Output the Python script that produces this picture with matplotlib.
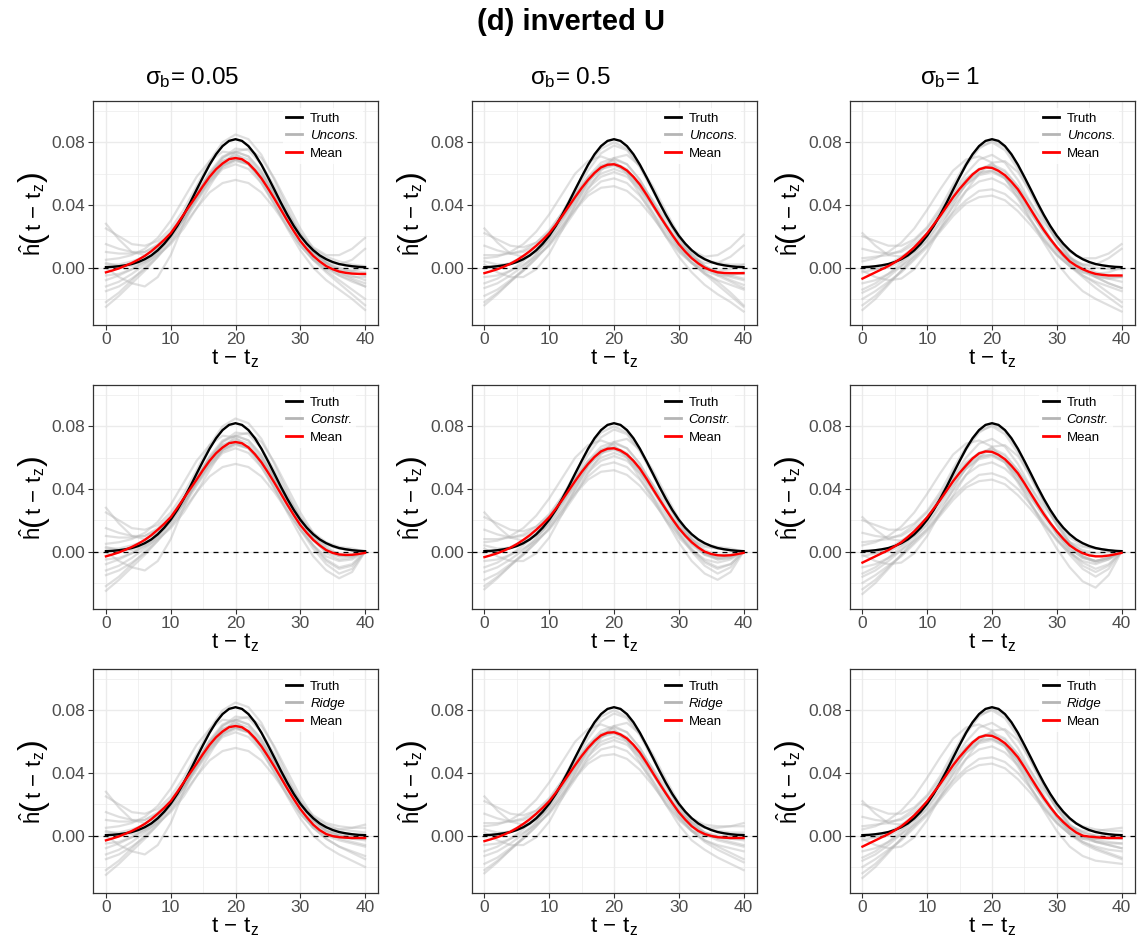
import matplotlib
matplotlib.use("Agg")
import matplotlib.pyplot as plt
from matplotlib.lines import Line2D
from matplotlib.ticker import MultipleLocator

plt.rcParams["font.family"] = ["Liberation Sans", "DejaVu Sans"]
plt.rcParams["mathtext.fontset"] = "custom"
plt.rcParams["mathtext.rm"] = "Liberation Sans"
plt.rcParams["mathtext.it"] = "Liberation Sans"
plt.rcParams["mathtext.bf"] = "Liberation Sans:bold"

# ---------------------------------------------------------------- data
T_FINE = list(range(0, 41))        # lag grid for truth and means
T_GRID = list(range(0, 41, 2))     # lag grid for single replicates

TRUTH = [0.0003, 0.0005, 0.0009, 0.0015, 0.0023, 0.0036, 0.0054, 0.0078,
         0.0111, 0.0153, 0.0204, 0.0266, 0.0337, 0.0415, 0.0498, 0.0579,
         0.0657, 0.0724, 0.0776, 0.0809, 0.0820, 0.0809, 0.0776, 0.0724,
         0.0657, 0.0579, 0.0498, 0.0415, 0.0337, 0.0266, 0.0204, 0.0153,
         0.0111, 0.0078, 0.0054, 0.0036, 0.0023, 0.0015, 0.0009, 0.0005,
         0.0003]

SIGMA_B = ["0.05", "0.5", "1"]
METHODS = ["Uncons.", "Constr.", "Ridge"]
SCALE = 1000.0   # estimates below are stored as h-hat x 1000

MEAN_UNCONS = [
    [-3, -1.8, -0.5, 1.2, 3, 5.1, 7.5, 10.5, 14, 17.8, 22, 27.8, 34, 40, 46, 52.2,
     58, 62.8, 66.5, 69.2, 70, 69.2, 66.5, 62.2, 57, 50.7, 44, 37, 30, 23.3, 17,
     12, 7.5, 4, 1, -1, -2.5, -3.3, -3.8, -4, -4],
    [-3.5, -2.3, -1, 0.6, 2.5, 4.8, 7.5, 10.5, 14, 17.8, 22, 27.3, 33, 39, 45, 50.8,
     56, 60.5, 64, 65.7, 66, 64.6, 62, 58, 53, 46.7, 40, 33.4, 27, 20.8, 15,
     10.2, 6, 2.7, 0, -1.8, -3, -3.4, -3.5, -3.5, -3.5],
    [-7, -5, -3, -1, 1, 3.4, 6, 9.3, 13, 17.3, 22, 27.5, 33, 39, 45, 50.3,
     55, 59.5, 62.7, 64, 63.7, 61.8, 59, 54.8, 50, 43.7, 37, 30.4, 24, 18.2, 13,
     8.2, 4, 1.2, -1, -2.7, -4, -4.6, -5, -5, -5],
]
MEAN_CONSTR = [
    [-3, -1.8, -0.5, 1.2, 3, 5.1, 7.5, 10.5, 14, 17.8, 22, 27.8, 34, 40, 46, 52.2,
     58, 62.8, 66.5, 69.2, 70, 69.2, 66.5, 62.2, 57, 50.7, 44, 37, 30, 23.3, 17,
     12, 7.5, 4, 1, -0.8, -1.8, -2.1, -2, -1.5, -0.8],
    [-3.5, -2.3, -1, 0.6, 2.5, 4.8, 7.5, 10.5, 14, 17.8, 22, 27.3, 33, 39, 45, 50.8,
     56, 60.5, 64, 65.7, 66, 64.6, 62, 58, 53, 46.7, 40, 33.4, 27, 20.8, 15,
     10.2, 6, 2.7, 0, -1.5, -2.3, -2.5, -2.3, -1.6, -0.8],
    [-7, -5, -3, -1, 1, 3.4, 6, 9.3, 13, 17.3, 22, 27.5, 33, 39, 45, 50.3,
     55, 59.5, 62.7, 64, 63.7, 61.8, 59, 54.8, 50, 43.7, 37, 30.4, 24, 18.2, 13,
     8.2, 4, 1.2, -1, -2.4, -3, -3, -2.5, -1.7, -0.8],
]
MEAN_RIDGE = [
    [-3, -1.8, -0.5, 1.2, 3, 5.1, 7.5, 10.5, 14, 17.8, 22, 27.8, 34, 40, 46, 52.2,
     58, 62.8, 66.5, 69.2, 70, 69.2, 66.5, 62.2, 57, 50.7, 44, 37, 30, 23.3, 17,
     11.8, 7, 3.5, 1, -0.3, -1, -1.3, -1.5, -1.5, -1.5],
    [-3.5, -2.3, -1, 0.6, 2.5, 4.8, 7.5, 10.5, 14, 17.8, 22, 27.3, 33, 39, 45, 50.8,
     56, 60.5, 64, 65.7, 66, 64.6, 62, 58, 53, 46.7, 40, 33.4, 27, 20.8, 15,
     10.2, 6, 3, 1, -0.2, -1, -1.3, -1.5, -1.5, -1.5],
    [-7, -5, -3, -1, 1, 3.4, 6, 9.3, 13, 17.3, 22, 27.5, 33, 39, 45, 50.3,
     55, 59.5, 62.7, 64, 63.7, 61.8, 59, 54.8, 50, 43.7, 37, 30.4, 24, 18.2, 13,
     8.7, 5, 2, 0, -0.6, -1, -1.3, -1.5, -1.5, -1.5],
]

GREY_UNCONS_S005 = [
    [25, 20, 15, 14, 17, 25, 37, 52, 68, 80, 85, 82, 72, 56, 38, 22, 10, 3, -2, -5, -8],
    [-15, -12, -7, -1, 7, 16, 27, 38, 48, 54, 56, 54, 48, 38, 26, 14, 5, -2, -8, -14, -20],
    [-22, -16, -8, 0, 9, 19, 31, 44, 56, 65, 69, 66, 57, 44, 30, 17, 7, 0, -4, -6, -6],
    [10, 9, 9, 10, 15, 23, 34, 47, 59, 68, 72, 69, 60, 47, 33, 20, 10, 4, 2, 5, 12],
    [0, -6, -10, -12, -6, 8, 28, 46, 61, 71, 74, 71, 62, 48, 33, 19, 9, 3, 0, -2, -3],
    [-5, -4, -1, 3, 8, 15, 25, 38, 52, 65, 74, 76, 70, 57, 41, 25, 12, 3, -3, -7, -10],
    [5, 6, 8, 12, 19, 30, 44, 58, 68, 74, 73, 66, 54, 40, 26, 14, 5, 0, -2, -2, 0],
    [-8, -5, -1, 4, 11, 21, 34, 48, 60, 68, 71, 67, 56, 41, 25, 11, 0, -8, -14, -20, -27],
    [2, 2, 4, 7, 13, 21, 32, 45, 57, 66, 69, 67, 59, 48, 35, 22, 13, 8, 8, 12, 19],
    [15, 12, 10, 10, 14, 21, 31, 43, 55, 64, 68, 66, 58, 46, 33, 20, 10, 3, -1, -3, -5],
    [-12, -9, -4, 2, 10, 20, 33, 47, 60, 70, 74, 71, 61, 47, 31, 17, 6, -1, -5, -8, -12],
    [28, 18, 10, 8, 12, 20, 31, 44, 56, 65, 69, 66, 57, 45, 32, 20, 12, 7, 4, 2, 1],
    [-25, -18, -10, -2, 7, 17, 29, 42, 54, 63, 66, 63, 54, 41, 28, 15, 5, -3, -10, -17, -24],
    [3, 1, 1, 4, 10, 19, 31, 45, 59, 70, 76, 75, 66, 52, 36, 21, 9, 1, -5, -9, -12],
]
GREY_UNCONS_S05 = [
    [22, 18, 14, 13, 16, 23, 35, 50, 65, 76, 80, 76, 65, 50, 34, 19, 8, 1, -3, -6, -8],
    [-18, -14, -8, -2, 6, 15, 26, 37, 46, 51, 52, 49, 42, 32, 21, 11, 3, -3, -9, -16, -24],
    [-24, -17, -9, -1, 8, 18, 30, 43, 55, 63, 66, 62, 52, 39, 25, 13, 4, -2, -5, -5, -3],
    [8, 8, 9, 11, 16, 24, 35, 47, 58, 65, 67, 63, 53, 40, 27, 15, 7, 3, 3, 7, 14],
    [2, -3, -6, -6, -1, 9, 24, 40, 55, 65, 69, 66, 56, 42, 28, 15, 6, 0, -3, -4, -4],
    [-6, -5, -2, 2, 7, 14, 24, 36, 50, 62, 70, 72, 65, 52, 36, 21, 9, 1, -4, -8, -11],
    [6, 7, 10, 15, 23, 34, 47, 60, 68, 71, 68, 60, 47, 33, 20, 10, 3, -1, -2, -1, 2],
    [-10, -7, -2, 4, 11, 21, 33, 46, 57, 64, 66, 61, 50, 35, 20, 7, -3, -11, -17, -22, -28],
    [0, 1, 3, 7, 13, 21, 32, 44, 55, 63, 65, 62, 54, 43, 31, 19, 11, 7, 8, 13, 21],
    [14, 11, 9, 10, 14, 21, 31, 42, 53, 60, 63, 60, 52, 40, 28, 16, 7, 1, -3, -5, -7],
    [-13, -10, -5, 1, 9, 19, 32, 46, 58, 67, 70, 66, 56, 42, 27, 13, 3, -4, -8, -11, -14],
    [25, 16, 9, 7, 10, 17, 28, 40, 51, 58, 61, 58, 50, 39, 27, 16, 9, 5, 3, 2, 2],
    [-22, -16, -9, -2, 6, 15, 26, 38, 48, 55, 57, 54, 46, 35, 23, 12, 3, -4, -11, -18, -25],
    [4, 2, 2, 5, 11, 20, 33, 48, 62, 73, 78, 75, 64, 49, 33, 18, 7, 0, -5, -9, -13],
]
GREY_UNCONS_S1 = [
    [20, 17, 14, 14, 18, 26, 38, 53, 67, 77, 80, 75, 63, 47, 31, 17, 7, 1, -3, -5, -6],
    [-20, -15, -9, -3, 5, 13, 23, 33, 41, 45, 46, 43, 36, 27, 17, 8, 1, -5, -10, -16, -22],
    [-27, -20, -11, -2, 8, 18, 30, 42, 53, 60, 62, 58, 48, 35, 22, 11, 3, -3, -6, -7, -6],
    [6, 7, 8, 11, 17, 25, 36, 47, 57, 63, 64, 59, 49, 37, 24, 13, 6, 2, 2, 6, 12],
    [-2, -6, -8, -7, -1, 10, 25, 40, 54, 63, 66, 62, 52, 38, 24, 12, 3, -2, -5, -6, -6],
    [-10, -8, -4, 1, 7, 14, 24, 36, 49, 60, 67, 68, 61, 48, 33, 19, 7, -1, -6, -10, -13],
    [4, 6, 10, 16, 25, 37, 50, 62, 69, 71, 67, 57, 44, 30, 18, 8, 1, -3, -4, -3, 0],
    [-14, -10, -4, 3, 11, 21, 33, 45, 55, 61, 62, 57, 46, 31, 16, 3, -7, -15, -20, -24, -28],
    [-3, -1, 2, 7, 13, 22, 33, 45, 56, 63, 65, 61, 52, 41, 29, 18, 10, 6, 6, 9, 15],
    [12, 10, 9, 10, 15, 22, 32, 43, 53, 59, 61, 57, 48, 36, 24, 13, 5, -1, -5, -7, -9],
    [-16, -12, -6, 1, 10, 21, 34, 48, 60, 69, 72, 67, 56, 41, 26, 12, 2, -5, -9, -12, -15],
    [22, 14, 8, 7, 10, 17, 28, 39, 49, 55, 57, 53, 45, 34, 23, 13, 6, 2, 0, -1, -1],
    [-24, -18, -10, -2, 6, 15, 25, 35, 43, 49, 50, 47, 40, 30, 19, 9, 1, -6, -13, -19, -25],
    [0, -1, 0, 4, 11, 21, 35, 51, 65, 76, 81, 77, 65, 49, 32, 17, 6, -1, -6, -10, -13],
]

GREY_CONSTR_S005 = [
    [25, 20, 15, 14, 17, 25, 37, 52, 68, 80, 85, 82, 72, 56, 38, 22, 10, 2, -2, -2, 0],
    [-15, -12, -7, -1, 7, 16, 27, 38, 48, 54, 56, 54, 48, 38, 26, 14, 4, -5, -10, -8, 0],
    [-22, -16, -8, 0, 9, 19, 31, 44, 56, 65, 69, 66, 57, 44, 30, 17, 7, 0, -3, -3, 0],
    [10, 9, 9, 10, 15, 23, 34, 47, 59, 68, 72, 69, 60, 47, 33, 20, 10, 4, 2, 1, 0],
    [0, -6, -10, -12, -6, 8, 28, 46, 61, 71, 74, 71, 62, 48, 33, 19, 8, 1, -2, -2, 0],
    [-5, -4, -1, 3, 8, 15, 25, 38, 52, 65, 74, 76, 70, 57, 41, 25, 12, 3, -2, -3, 0],
    [5, 6, 8, 12, 19, 30, 44, 58, 68, 74, 73, 66, 54, 40, 26, 14, 4, -3, -6, -5, 0],
    [-8, -5, -1, 4, 11, 21, 34, 48, 60, 68, 71, 67, 56, 41, 25, 10, -3, -12, -17, -13, 0],
    [2, 2, 4, 7, 13, 21, 32, 45, 57, 66, 69, 67, 59, 48, 35, 22, 12, 6, 3, 2, 0],
    [15, 12, 10, 10, 14, 21, 31, 43, 55, 64, 68, 66, 58, 46, 33, 20, 9, 1, -3, -3, 0],
    [-12, -9, -4, 2, 10, 20, 33, 47, 60, 70, 74, 71, 61, 47, 31, 16, 4, -6, -11, -9, 0],
    [28, 18, 10, 8, 12, 20, 31, 44, 56, 65, 69, 66, 57, 45, 32, 20, 11, 5, 2, 1, 0],
    [-25, -18, -10, -2, 7, 17, 29, 42, 54, 63, 66, 63, 54, 41, 28, 14, 2, -8, -14, -11, 0],
    [3, 1, 1, 4, 10, 19, 31, 45, 59, 70, 76, 75, 66, 52, 36, 21, 8, -1, -5, -4, 0],
]
GREY_CONSTR_S05 = [
    [22, 18, 14, 13, 16, 23, 35, 50, 65, 76, 80, 76, 65, 50, 34, 19, 8, 1, -2, -2, 0],
    [-18, -14, -8, -2, 6, 15, 26, 37, 46, 51, 52, 49, 42, 32, 21, 11, 2, -6, -10, -8, 0],
    [-24, -17, -9, -1, 8, 18, 30, 43, 55, 63, 66, 62, 52, 39, 25, 13, 4, -2, -4, -3, 0],
    [8, 8, 9, 11, 16, 24, 35, 47, 58, 65, 67, 63, 53, 40, 27, 15, 7, 3, 2, 1, 0],
    [2, -3, -6, -6, -1, 9, 24, 40, 55, 65, 69, 66, 56, 42, 28, 15, 5, -1, -3, -2, 0],
    [-6, -5, -2, 2, 7, 14, 24, 36, 50, 62, 70, 72, 65, 52, 36, 21, 8, -1, -5, -4, 0],
    [6, 7, 10, 15, 23, 34, 47, 60, 68, 71, 68, 60, 47, 33, 20, 9, 1, -5, -7, -5, 0],
    [-10, -7, -2, 4, 11, 21, 33, 46, 57, 64, 66, 61, 50, 35, 20, 6, -6, -14, -18, -13, 0],
    [0, 1, 3, 7, 13, 21, 32, 44, 55, 63, 65, 62, 54, 43, 31, 19, 10, 5, 3, 2, 0],
    [14, 11, 9, 10, 14, 21, 31, 42, 53, 60, 63, 60, 52, 40, 28, 16, 6, -1, -4, -3, 0],
    [-13, -10, -5, 1, 9, 19, 32, 46, 58, 67, 70, 66, 56, 42, 27, 12, 1, -7, -11, -8, 0],
    [25, 16, 9, 7, 10, 17, 28, 40, 51, 58, 61, 58, 50, 39, 27, 16, 8, 4, 2, 1, 0],
    [-22, -16, -9, -2, 6, 15, 26, 38, 48, 55, 57, 54, 46, 35, 23, 11, 0, -9, -14, -10, 0],
    [4, 2, 2, 5, 11, 20, 33, 48, 62, 73, 78, 75, 64, 49, 33, 18, 6, -2, -5, -4, 0],
]
GREY_CONSTR_S1 = [
    [20, 17, 14, 14, 18, 26, 38, 53, 67, 77, 80, 75, 63, 47, 31, 17, 6, 0, -3, -2, 0],
    [-20, -15, -9, -3, 5, 13, 23, 33, 41, 45, 46, 43, 36, 27, 17, 8, 0, -7, -11, -8, 0],
    [-27, -20, -11, -2, 8, 18, 30, 42, 53, 60, 62, 58, 48, 35, 22, 11, 2, -4, -6, -4, 0],
    [6, 7, 8, 11, 17, 25, 36, 47, 57, 63, 64, 59, 49, 37, 24, 13, 6, 3, 2, 1, 0],
    [-2, -6, -8, -7, -1, 10, 25, 40, 54, 63, 66, 62, 52, 38, 24, 12, 2, -4, -6, -4, 0],
    [-10, -8, -4, 1, 7, 14, 24, 36, 49, 60, 67, 68, 61, 48, 33, 19, 6, -3, -7, -5, 0],
    [4, 6, 10, 16, 25, 37, 50, 62, 69, 71, 67, 57, 44, 30, 18, 7, -1, -6, -8, -5, 0],
    [-14, -10, -4, 3, 11, 21, 33, 45, 55, 61, 62, 57, 46, 31, 16, 2, -10, -19, -23, -15, 0],
    [-3, -1, 2, 7, 13, 22, 33, 45, 56, 63, 65, 61, 52, 41, 29, 18, 9, 4, 2, 1, 0],
    [12, 10, 9, 10, 15, 22, 32, 43, 53, 59, 61, 57, 48, 36, 24, 13, 4, -3, -6, -4, 0],
    [-16, -12, -6, 1, 10, 21, 34, 48, 60, 69, 72, 67, 56, 41, 26, 11, 0, -9, -13, -9, 0],
    [22, 14, 8, 7, 10, 17, 28, 39, 49, 55, 57, 53, 45, 34, 23, 13, 5, 1, -1, 0, 0],
    [-24, -18, -10, -2, 6, 15, 25, 35, 43, 49, 50, 47, 40, 30, 19, 8, -2, -11, -16, -11, 0],
    [0, -1, 0, 4, 11, 21, 35, 51, 65, 76, 81, 77, 65, 49, 32, 17, 5, -3, -6, -4, 0],
]

GREY_RIDGE_S005 = [
    [25, 20, 15, 14, 17, 25, 37, 52, 68, 80, 85, 82, 72, 56, 38, 22, 10, 3, 0, -1, -2],
    [-15, -12, -7, -1, 7, 16, 27, 38, 48, 54, 56, 54, 48, 38, 26, 14, 5, -2, -7, -10, -13],
    [-22, -16, -8, 0, 9, 19, 31, 44, 56, 65, 69, 66, 57, 44, 30, 17, 7, 1, -1, -2, -2],
    [10, 9, 9, 10, 15, 23, 34, 47, 59, 68, 72, 69, 60, 47, 33, 20, 10, 5, 4, 5, 7],
    [0, -6, -10, -12, -6, 8, 28, 46, 61, 71, 74, 71, 62, 48, 33, 19, 9, 3, 1, 0, 0],
    [-5, -4, -1, 3, 8, 15, 25, 38, 52, 65, 74, 76, 70, 57, 41, 25, 12, 4, 0, -2, -3],
    [5, 6, 8, 12, 19, 30, 44, 58, 68, 74, 73, 66, 54, 40, 26, 14, 5, 0, -1, -1, 0],
    [-8, -5, -1, 4, 11, 21, 34, 48, 60, 68, 71, 67, 56, 41, 25, 11, 0, -7, -12, -16, -20],
    [2, 2, 4, 7, 13, 21, 32, 45, 57, 66, 69, 67, 59, 48, 35, 22, 13, 8, 6, 5, 5],
    [15, 12, 10, 10, 14, 21, 31, 43, 55, 64, 68, 66, 58, 46, 33, 20, 10, 3, 0, -1, -2],
    [-12, -9, -4, 2, 10, 20, 33, 47, 60, 70, 74, 71, 61, 47, 31, 17, 6, 0, -3, -5, -7],
    [28, 18, 10, 8, 12, 20, 31, 44, 56, 65, 69, 66, 57, 45, 32, 20, 12, 7, 4, 3, 2],
    [-25, -18, -10, -2, 7, 17, 29, 42, 54, 63, 66, 63, 54, 41, 28, 15, 5, -2, -7, -11, -15],
    [3, 1, 1, 4, 10, 19, 31, 45, 59, 70, 76, 75, 66, 52, 36, 21, 9, 2, -2, -4, -6],
]
GREY_RIDGE_S05 = [
    [22, 18, 14, 13, 16, 23, 35, 50, 65, 76, 80, 76, 65, 50, 34, 19, 8, 2, 0, -1, -2],
    [-18, -14, -8, -2, 6, 15, 26, 37, 46, 51, 52, 49, 42, 32, 21, 11, 3, -3, -7, -11, -15],
    [-24, -17, -9, -1, 8, 18, 30, 43, 55, 63, 66, 62, 52, 39, 25, 13, 4, 0, -1, -1, -1],
    [8, 8, 9, 11, 16, 24, 35, 47, 58, 65, 67, 63, 53, 40, 27, 15, 8, 5, 5, 6, 8],
    [2, -3, -6, -6, -1, 9, 24, 40, 55, 65, 69, 66, 56, 42, 28, 15, 6, 1, -1, -2, -2],
    [-6, -5, -2, 2, 7, 14, 24, 36, 50, 62, 70, 72, 65, 52, 36, 21, 9, 2, -2, -4, -6],
    [6, 7, 10, 15, 23, 34, 47, 60, 68, 71, 68, 60, 47, 33, 20, 10, 3, 0, -1, 0, 1],
    [-10, -7, -2, 4, 11, 21, 33, 46, 57, 64, 66, 61, 50, 35, 20, 7, -3, -9, -14, -18, -22],
    [0, 1, 3, 7, 13, 21, 32, 44, 55, 63, 65, 62, 54, 43, 31, 19, 11, 7, 6, 6, 6],
    [14, 11, 9, 10, 14, 21, 31, 42, 53, 60, 63, 60, 52, 40, 28, 16, 7, 2, -1, -2, -3],
    [-13, -10, -5, 1, 9, 19, 32, 46, 58, 67, 70, 66, 56, 42, 27, 13, 3, -3, -6, -8, -10],
    [25, 16, 9, 7, 10, 17, 28, 40, 51, 58, 61, 58, 50, 39, 27, 16, 9, 5, 3, 2, 2],
    [-22, -16, -9, -2, 6, 15, 26, 38, 48, 55, 57, 54, 46, 35, 23, 12, 3, -4, -9, -13, -17],
    [4, 2, 2, 5, 11, 20, 33, 48, 62, 73, 78, 75, 64, 49, 33, 18, 7, 1, -3, -5, -7],
]
GREY_RIDGE_S1 = [
    [20, 17, 14, 14, 18, 26, 38, 53, 67, 77, 80, 75, 63, 47, 31, 17, 7, 2, 0, -1, -2],
    [-20, -15, -9, -3, 5, 13, 23, 33, 41, 45, 46, 43, 36, 27, 17, 8, 1, -4, -8, -11, -14],
    [-27, -20, -11, -2, 8, 18, 30, 42, 53, 60, 62, 58, 48, 35, 22, 11, 3, -1, -2, -2, -2],
    [6, 7, 8, 11, 17, 25, 36, 47, 57, 63, 64, 59, 49, 37, 24, 13, 6, 3, 3, 4, 5],
    [-2, -6, -8, -7, -1, 10, 25, 40, 54, 63, 66, 62, 52, 38, 24, 12, 3, -2, -4, -5, -5],
    [-10, -8, -4, 1, 7, 14, 24, 36, 49, 60, 67, 68, 61, 48, 33, 19, 7, 0, -4, -6, -8],
    [4, 6, 10, 16, 25, 37, 50, 62, 69, 71, 67, 57, 44, 30, 18, 8, 1, -2, -2, -1, 0],
    [-14, -10, -4, 3, 11, 21, 33, 45, 55, 61, 62, 57, 46, 31, 16, 3, -7, -13, -16, -17, -18],
    [-3, -1, 2, 7, 13, 22, 33, 45, 56, 63, 65, 61, 52, 41, 29, 18, 10, 6, 4, 3, 3],
    [12, 10, 9, 10, 15, 22, 32, 43, 53, 59, 61, 57, 48, 36, 24, 13, 5, 0, -3, -4, -5],
    [-16, -12, -6, 1, 10, 21, 34, 48, 60, 69, 72, 67, 56, 41, 26, 12, 2, -4, -7, -9, -10],
    [22, 14, 8, 7, 10, 17, 28, 39, 49, 55, 57, 53, 45, 34, 23, 13, 6, 2, 0, -1, -1],
    [-24, -18, -10, -2, 6, 15, 25, 35, 43, 49, 50, 47, 40, 30, 19, 9, 1, -5, -9, -12, -15],
    [0, -1, 0, 4, 11, 21, 35, 51, 65, 76, 81, 77, 65, 49, 32, 17, 6, 0, -4, -6, -8],
]

MEANS = [MEAN_UNCONS, MEAN_CONSTR, MEAN_RIDGE]
GREYS = [
    [GREY_UNCONS_S005, GREY_UNCONS_S05, GREY_UNCONS_S1],
    [GREY_CONSTR_S005, GREY_CONSTR_S05, GREY_CONSTR_S1],
    [GREY_RIDGE_S005, GREY_RIDGE_S05, GREY_RIDGE_S1],
]

# ---------------------------------------------------------------- layout
W, H = 1140, 943
fig = plt.figure(figsize=(W / 100, H / 100), dpi=100)
renderer = fig.canvas.get_renderer()

COL_LEFT = [93, 471.5, 849.5]
ROW_TOP = [100.5, 384.5, 668.5]
AX_W, AX_H = 285, 224

GREY = "#b5b5b5"
TICK_GREY = "#4d4d4d"
GRID = "#ebebeb"
ARG = r"$\mathrm{t}\,-\,\mathrm{t}_{\mathrm{z}}$"

# y-axis label pieces: hat-h, a tall "(", the argument, a tall ")"
YLAB_PIECES = [
    (r"$\hat{\mathrm{h}}$", 16),
    ("(", 23),
    (ARG, 16),
    (")", 23),
]


def frac(x, y):
    return x / W, 1 - y / H


def draw_ylabel(baseline_px, centre_px):
    """Stack the label pieces upwards along a common vertical baseline."""
    texts = []
    for s, size in YLAB_PIECES:
        t = fig.text(0, 0, s, fontsize=size, rotation=90,
                     rotation_mode="anchor", ha="left", va="baseline")
        texts.append(t)
    lengths = [t.get_window_extent(renderer).height for t in texts]
    gap = 0.5
    total = sum(lengths) + gap * (len(lengths) - 1)
    y = centre_px + total / 2     # pixel row (from top) where the label starts
    for t, ln in zip(texts, lengths):
        t.set_position(frac(baseline_px, y))
        y -= ln + gap


for r in range(3):
    for c in range(3):
        x0, y0 = COL_LEFT[c], ROW_TOP[r]
        ax = fig.add_axes([x0 / W, 1 - (y0 + AX_H) / H, AX_W / W, AX_H / H])
        ax.set_xlim(-2, 42)
        ax.set_ylim(-0.0363, 0.1067)

        ax.xaxis.set_major_locator(MultipleLocator(10))
        ax.xaxis.set_minor_locator(MultipleLocator(5))
        ax.yaxis.set_major_locator(MultipleLocator(0.04))
        ax.yaxis.set_minor_locator(MultipleLocator(0.02))
        ax.yaxis.set_major_formatter(lambda v, p: f"{v:.2f}")
        ax.grid(True, which="major", color=GRID, lw=1.0, zorder=0)
        ax.grid(True, which="minor", color=GRID, lw=0.5, zorder=0)
        ax.set_axisbelow(True)
        ax.tick_params(which="minor", length=0)
        ax.tick_params(which="major", length=3.5, width=0.8, color="#333333",
                       labelsize=12.5, labelcolor=TICK_GREY, pad=2)
        for s in ax.spines.values():
            s.set_color("#333333")
            s.set_linewidth(0.9)

        for curve in GREYS[r][c]:
            ax.plot(T_GRID, [v / SCALE for v in curve], color=GREY,
                    lw=1.6, alpha=0.42, zorder=2, solid_joinstyle="round")
        ax.axhline(0, color="black", lw=0.9, ls=(0, (4, 4)), zorder=3)
        ax.plot(T_FINE, TRUTH, color="black", lw=1.7, zorder=4)
        ax.plot(T_FINE, [v / SCALE for v in MEANS[r][c]], color="#ff0000",
                lw=1.7, zorder=5)

        ax.set_xlabel(ARG, fontsize=16, labelpad=0)
        draw_ylabel(x0 - 52, y0 + AX_H / 2 + 1)

        handles = [
            Line2D([], [], color="black", lw=2),
            Line2D([], [], color=GREY, lw=2),
            Line2D([], [], color="#ff0000", lw=2),
        ]
        leg = ax.legend(handles, ["Truth", METHODS[r], "Mean"],
                        loc="upper left", bbox_to_anchor=(0.665, 0.965),
                        fontsize=9.5, frameon=True, fancybox=False,
                        borderpad=0.3, handlelength=1.2, handletextpad=0.6,
                        labelspacing=0.4, borderaxespad=0)
        leg.get_frame().set_facecolor("white")
        leg.get_frame().set_edgecolor("none")
        leg.set_zorder(10)
        leg.get_texts()[1].set_fontstyle("italic")

for c, s in enumerate(SIGMA_B):
    cx = [192, 570, 950][c]
    fig.text(*frac(cx, 78), r"$\sigma_{\mathrm{b}}$= " + s, fontsize=17.5,
             ha="center", va="center")

fig.text(*frac(571, 22), "(d) inverted U", fontsize=21, fontweight="bold",
         ha="center", va="center")

fig.savefig("out.png", dpi=100)
